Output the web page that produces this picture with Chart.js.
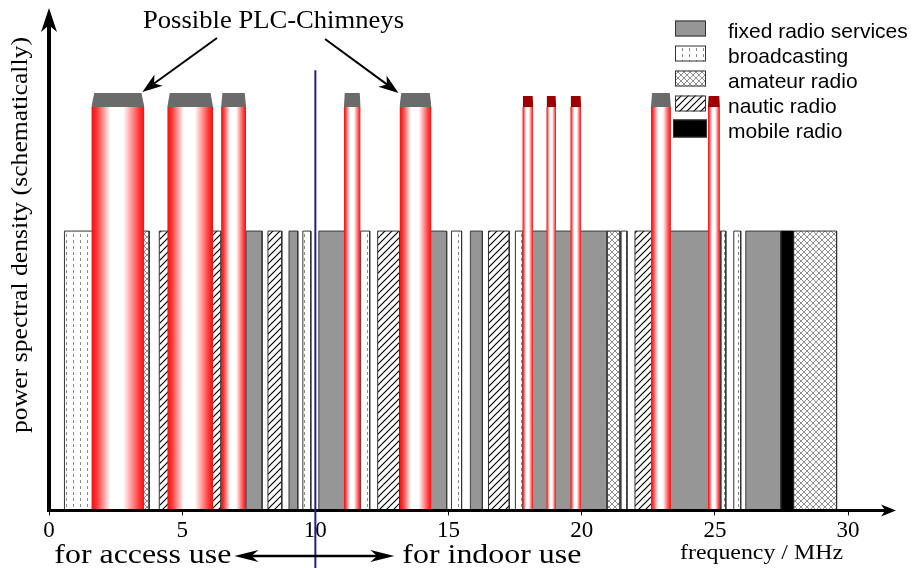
<!DOCTYPE html>
<html>
<head>
<meta charset="utf-8">
<title>PLC chimneys</title>
<script src="https://cdn.jsdelivr.net/npm/chart.js@4.4.1/dist/chart.umd.min.js"></script>
<style>
  html, body { margin: 0; padding: 0; background: #fff; }
  #wrap { width: 915px; height: 568px; }
</style>
</head>
<body>
<div id="wrap"><canvas id="chart" width="915" height="568"></canvas></div>
<script>
// frequency bands in MHz
const fixedBands = [[7.40, 8.00], [9.01, 9.34], [10.13, 11.10], [14.30, 14.93], [15.82, 16.27], [18.10, 20.95], [23.30, 25.22], [26.16, 27.47]];
const broadcastBands = [[0.58, 1.70], [9.53, 9.83], [11.70, 12.04], [15.11, 15.49], [17.51, 17.80], [21.48, 21.70], [25.22, 25.41], [25.71, 25.97]];
const amateurBands = [[3.50, 3.76], [20.95, 21.44], [27.96, 29.57]];
const nauticBands = [[4.14, 4.50], [6.10, 6.46], [8.22, 8.74], [12.34, 13.16], [16.50, 17.28], [22.00, 22.65]];
const mobileBands = [[27.47, 27.96]];

// PLC chimneys (MHz) and the colour of their caps
const chimneys = [[1.59, 3.58], [4.44, 6.16], [6.46, 7.40], [11.07, 11.70], [13.16, 14.36], [17.77, 18.18], [18.67, 19.04], [19.57, 19.98], [22.60, 23.35], [24.74, 25.19]];
const chimneyCaps = ["grey", "grey", "grey", "grey", "grey", "red", "red", "red", "grey", "red"];

// schematic levels (0..100)
const serviceLevel = 55.6;
const chimneyLevel = 80.3;
const capLevel = { grey: 83.1, red: 82.5 };
const splitLevel = 87.6;

const tickValues = [0, 5, 10, 15, 20, 25, 30];
const legendLabels = ["fixed radio services", "broadcasting", "amateur radio", "nautic radio", "mobile radio"];
const splitFreq = 10;

const canvas = document.getElementById("chart");
const mainCtx = canvas.getContext("2d");

function makePattern(w, h, draw) {
    const c = document.createElement("canvas");
    c.width = w;
    c.height = h;
    const g = c.getContext("2d");
    g.fillStyle = "#fff";
    g.fillRect(0, 0, w, h);
    draw(g);
    return mainCtx.createPattern(c, "repeat");
}

const fixedFill = "#969696";
const mobileFill = "#000";
const broadcastFill = makePattern(7, 6, g => {
    g.fillStyle = "#8a8a8a";
    g.fillRect(3, 0, 1, 3);
});
const amateurFill = makePattern(6, 6, g => {
    g.strokeStyle = "#8f8f8f";
    g.lineWidth = 1;
    g.beginPath();
    g.moveTo(0, 0); g.lineTo(6, 6);
    g.moveTo(6, 0); g.lineTo(0, 6);
    g.stroke();
});
const nauticFill = makePattern(7, 7, g => {
    g.strokeStyle = "#000";
    g.lineWidth = 1.2;
    g.beginPath();
    g.moveTo(-1, 8); g.lineTo(8, -1);
    g.moveTo(-1, 1); g.lineTo(1, -1);
    g.moveTo(6, 8); g.lineTo(8, 6);
    g.stroke();
});
const legendFills = [fixedFill, broadcastFill, amateurFill, nauticFill, mobileFill];

function chimneyGradient(context) {
    const chart = context.chart;
    const ds = chart.data.datasets[context.datasetIndex];
    const xs = chart.scales.x;
    if (!chart.chartArea || !xs) return "#f22";
    const a = xs.getPixelForValue(ds.range[0]);
    const b = xs.getPixelForValue(ds.range[1]);
    const g = chart.ctx.createLinearGradient(a, 0, b, 0);
    g.addColorStop(0, "#f01010");
    g.addColorStop(0.1, "#ff3434");
    g.addColorStop(0.36, "#ffffff");
    g.addColorStop(0.6, "#ffffff");
    g.addColorStop(0.9, "#ff3a3a");
    g.addColorStop(1, "#f01010");
    return g;
}

function box(lo, hi, top, base) {
    return [{ x: lo, y: base }, { x: lo, y: top }, { x: hi, y: top }, { x: hi, y: base }];
}

const datasets = [];

function addBands(bands, label, fill, border) {
    bands.forEach(([lo, hi]) => {
        datasets.push({
            label: label,
            data: box(lo, hi, serviceLevel, 0),
            backgroundColor: fill,
            borderColor: border,
            borderWidth: 1,
            fill: "origin",
            order: 3
        });
    });
}

addBands(fixedBands, legendLabels[0], fixedFill, "#3a3a3a");
addBands(broadcastBands, legendLabels[1], broadcastFill, "#333");
addBands(amateurBands, legendLabels[2], amateurFill, "#333");
addBands(nauticBands, legendLabels[3], nauticFill, "#333");
addBands(mobileBands, legendLabels[4], mobileFill, "#000");

chimneys.forEach(([lo, hi], i) => {
    datasets.push({
        label: "PLC chimney",
        range: [lo, hi],
        data: box(lo, hi, chimneyLevel, 0),
        backgroundColor: chimneyGradient,
        borderWidth: 0,
        fill: "origin",
        order: 2
    });
    const kind = chimneyCaps[i];
    const inset = (hi - lo) * 0.055;
    datasets.push({
        label: "cap",
        data: [
            { x: lo, y: chimneyLevel },
            { x: lo + inset, y: capLevel[kind] },
            { x: hi - inset, y: capLevel[kind] },
            { x: hi, y: chimneyLevel }
        ],
        backgroundColor: kind === "red" ? "#9c0000" : "#6b6b6b",
        borderWidth: 0,
        fill: { value: chimneyLevel },
        order: 1
    });
});

function arrowHead(ctx, tx, ty, angle, len, half) {
    ctx.save();
    ctx.translate(tx, ty);
    ctx.rotate(angle);
    ctx.beginPath();
    ctx.moveTo(0, 0);
    ctx.lineTo(-len, -half);
    ctx.lineTo(-len * 0.72, 0);
    ctx.lineTo(-len, half);
    ctx.closePath();
    ctx.fill();
    ctx.restore();
}

function arrow(ctx, x0, y0, x1, y1, len, half) {
    const ang = Math.atan2(y1 - y0, x1 - x0);
    ctx.beginPath();
    ctx.moveTo(x0, y0);
    ctx.lineTo(x1 - Math.cos(ang) * len * 0.7, y1 - Math.sin(ang) * len * 0.7);
    ctx.stroke();
    arrowHead(ctx, x1, y1, ang, len, half);
}

// text squeezed/stretched to the width it has in the picture
function fitText(ctx, text, x, y, font, width, align) {
    ctx.font = font;
    const s = width / ctx.measureText(text).width;
    ctx.save();
    ctx.translate(x, y);
    ctx.scale(s, 1);
    ctx.textAlign = align;
    ctx.fillText(text, 0, 0);
    ctx.restore();
}

const decorations = {
    id: "decorations",
    afterDraw(chart) {
        const { ctx, chartArea: area, scales: { x, y } } = chart;
        ctx.save();
        ctx.fillStyle = "#000";
        ctx.strokeStyle = "#000";

        // axes with arrow heads
        ctx.lineWidth = 3;
        ctx.beginPath();
        ctx.moveTo(area.left - 2, area.bottom);
        ctx.lineTo(area.right - 10, area.bottom);
        ctx.stroke();
        arrowHead(ctx, area.right, area.bottom, 0, 15, 6);
        ctx.lineWidth = 4;
        ctx.beginPath();
        ctx.moveTo(area.left, area.bottom + 1.5);
        ctx.lineTo(area.left, area.top + 16);
        ctx.stroke();
        arrowHead(ctx, area.left, area.top, -Math.PI / 2, 24, 8);

        // access / indoor split
        const sx = x.getPixelForValue(splitFreq);
        ctx.strokeStyle = "#20208c";
        ctx.lineWidth = 2;
        ctx.beginPath();
        ctx.moveTo(sx, y.getPixelForValue(splitLevel));
        ctx.lineTo(sx, chart.height);
        ctx.stroke();

        ctx.strokeStyle = "#000";
        ctx.lineWidth = 2.5;
        const ay = 556;
        ctx.beginPath();
        ctx.moveTo(sx - 70, ay);
        ctx.lineTo(sx + 68, ay);
        ctx.stroke();
        arrowHead(ctx, sx - 81, ay, Math.PI, 24, 6);
        arrowHead(ctx, sx + 79, ay, 0, 24, 6);

        ctx.textBaseline = "alphabetic";
        fitText(ctx, "for access use", sx - 84, 563, "28px 'Liberation Serif'", 177, "right");
        fitText(ctx, "for indoor use", sx + 87, 563, "28px 'Liberation Serif'", 179, "left");
        fitText(ctx, "frequency / MHz", 680, 559, "22px 'Liberation Serif'", 163, "left");

        // annotation
        fitText(ctx, "Possible PLC-Chimneys", 143, 28, "26px 'Liberation Serif'", 261, "left");
        ctx.lineWidth = 2;
        const capY = y.getPixelForValue(capLevel.grey);
        arrow(ctx, 217, 38, x.getPixelForValue(chimneys[0][1]) - 2, capY - 1, 20, 7);
        arrow(ctx, 325, 39, x.getPixelForValue(chimneys[4][0]) - 1, capY, 20, 7);

        // y axis title
        ctx.save();
        ctx.translate(21, 235);
        ctx.rotate(-Math.PI / 2);
        ctx.textBaseline = "middle";
        fitText(ctx, "power spectral density (schematically)", 0, 0, "24px 'Liberation Serif'", 396, "center");
        ctx.restore();

        // legend
        ctx.textBaseline = "alphabetic";
        ctx.font = "21px 'Liberation Sans'";
        ctx.textAlign = "left";
        legendLabels.forEach((label, i) => {
            const cy = 28.5 + i * 25;
            const mobile = i === 4;
            const bx = mobile ? 673 : 675;
            const bw = mobile ? 34 : 31;
            const bh = mobile ? 18 : 16;
            ctx.fillStyle = legendFills[i];
            ctx.fillRect(bx, cy - bh / 2, bw, bh);
            ctx.strokeStyle = "#333";
            ctx.lineWidth = 1;
            ctx.strokeRect(bx + 0.5, cy - bh / 2 + 0.5, bw - 1, bh - 1);
            ctx.fillStyle = "#000";
            ctx.fillText(label, 728, cy + 9);
        });
        ctx.restore();
    }
};

new Chart(canvas, {
    type: "line",
    data: { datasets: datasets },
    options: {
        responsive: false,
        animation: false,
        layout: { padding: { left: 49, right: 19, top: 8, bottom: 21 } },
        elements: {
            point: { radius: 0, hoverRadius: 0 },
            line: { tension: 0 }
        },
        plugins: {
            legend: { display: false },
            tooltip: { enabled: false }
        },
        events: [],
        scales: {
            x: {
                type: "linear",
                min: 0,
                max: 31.8,
                afterBuildTicks: scale => {
                    scale.ticks = tickValues.map(v => ({ value: v }));
                },
                border: { display: false },
                grid: { drawOnChartArea: false, drawTicks: true, tickLength: 5, color: "#000" },
                ticks: {
                    color: "#000",
                    padding: 2,
                    maxRotation: 0,
                    font: { family: "'Liberation Serif'", size: 23 }
                }
            },
            y: {
                display: false,
                min: 0,
                max: 100
            }
        }
    },
    plugins: [decorations]
});
</script>
</body>
</html>
